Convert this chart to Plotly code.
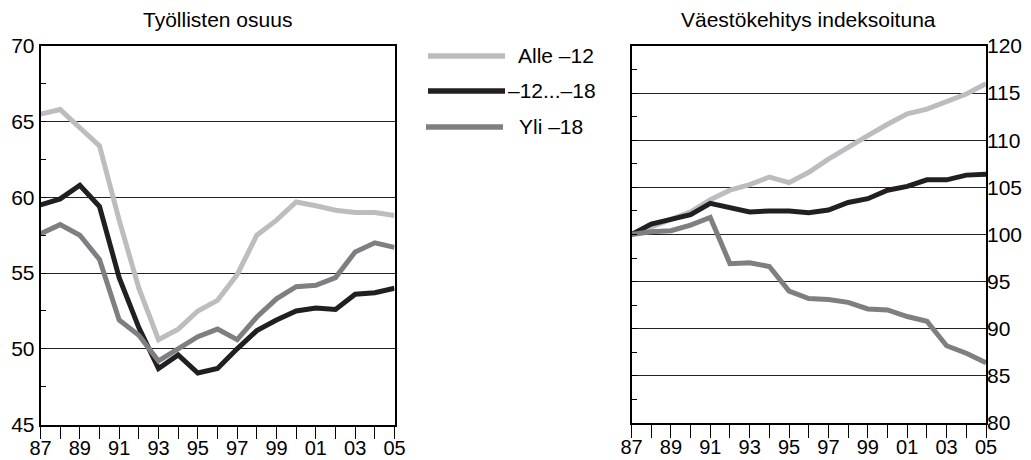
import plotly.graph_objects as go

W, H = 1031, 460

years = list(range(1987, 2006))
x_tick_vals = [1987, 1989, 1991, 1993, 1995, 1997, 1999, 2001, 2003, 2005]
x_tick_text = ["87", "89", "91", "93", "95", "97", "99", "01", "03", "05"]

series_names = ["Alle \u201312", "\u201312...\u201318", "Yli \u201318"]
series_colors = ["#bdbdbf", "#231f20", "#7f7f81"]

# Left panel: Työllisten osuus
emp_alle12 = [65.5, 65.8, 64.6, 63.4, 58.5, 54.0, 50.6, 51.3, 52.5, 53.2,
              54.9, 57.5, 58.5, 59.7, 59.45, 59.15, 59.0, 59.0, 58.8]
emp_12_18 = [59.5, 59.9, 60.8, 59.4, 54.7, 51.4, 48.7, 49.6, 48.4, 48.7,
             50.0, 51.2, 51.9, 52.5, 52.7, 52.6, 53.6, 53.7, 54.0]
emp_yli18 = [57.6, 58.2, 57.5, 55.9, 51.9, 50.9, 49.2, 50.0, 50.8, 51.3,
             50.6, 52.1, 53.3, 54.1, 54.2, 54.7, 56.4, 57.0, 56.7]

# Right panel: Väestökehitys indeksoituna
pop_alle12 = [100.0, 100.8, 101.5, 102.4, 103.7, 104.7, 105.3, 106.1, 105.5, 106.6,
              108.0, 109.3, 110.5, 111.7, 112.8, 113.3, 114.1, 114.9, 116.0]
pop_12_18 = [100.0, 101.1, 101.6, 102.1, 103.3, 102.8, 102.4, 102.5, 102.5, 102.3,
             102.6, 103.4, 103.8, 104.7, 105.1, 105.8, 105.8, 106.3, 106.4]
pop_yli18 = [100.0, 100.3, 100.4, 101.0, 101.8, 96.9, 97.0, 96.6, 94.0, 93.2,
             93.1, 92.8, 92.1, 92.0, 91.3, 90.8, 88.2, 87.4, 86.4]

titles = ["Työllisten osuus", "Väestökehitys indeksoituna"]

FONT = "Liberation Sans, Arial, Helvetica, sans-serif"
FS = 21


def px_x(p):
    return p / W


def px_y(p):
    return (H - p) / H


fig = go.Figure()

emp = [emp_alle12, emp_12_18, emp_yli18]
pop = [pop_alle12, pop_12_18, pop_yli18]

for i in range(3):
    fig.add_trace(go.Scatter(x=years, y=emp[i], mode="lines", name=series_names[i],
                             line=dict(color=series_colors[i], width=5),
                             xaxis="x", yaxis="y", showlegend=False))
for i in range(3):
    fig.add_trace(go.Scatter(x=years, y=pop[i], mode="lines", name=series_names[i],
                             line=dict(color=series_colors[i], width=5),
                             xaxis="x2", yaxis="y2", showlegend=False))
# invisible helper so the right-hand label axis is rendered
fig.add_trace(go.Scatter(x=years, y=pop_alle12, mode="lines",
                         line=dict(color="rgba(0,0,0,0)", width=0),
                         xaxis="x2", yaxis="y3", showlegend=False, hoverinfo="skip"))

common_x = dict(
    range=[1987, 2005], tickmode="array", tickvals=x_tick_vals, ticktext=x_tick_text,
    ticks="outside", ticklen=13, tickwidth=1.3, tickcolor="black",
    minor=dict(tickmode="array", tickvals=years, ticks="outside", ticklen=13,
               tickwidth=1.3, tickcolor="black", showgrid=False),
    showline=True, linecolor="black", linewidth=1.6, mirror=True,
    showgrid=False, zeroline=False, automargin=False,
    ticklabelstandoff=-8,
    tickfont=dict(family=FONT, size=20, color="black"),
    fixedrange=True,
)

fig.update_layout(
    width=W, height=H,
    margin=dict(l=0, r=0, t=0, b=0, autoexpand=False),
    paper_bgcolor="white", plot_bgcolor="white",
    showlegend=False,
    xaxis=dict(domain=[px_x(40.5), px_x(394.5)], anchor="y", **common_x),
    xaxis2=dict(domain=[px_x(631.5), px_x(986)], anchor="y2", **common_x),
    yaxis=dict(
        domain=[px_y(424.5), px_y(46)], anchor="x", range=[45, 70],
        tickmode="linear", tick0=45, dtick=5,
        ticks="inside", ticklen=6, tickcolor="black",
        minor=dict(dtick=2.5, tick0=45, ticks="inside", ticklen=6,
                   tickcolor="black", showgrid=False),
        showgrid=True, gridcolor="#222", gridwidth=1,
        showline=True, linecolor="black", linewidth=1.6, mirror=True,
        zeroline=False, automargin=False,
        tickfont=dict(family=FONT, size=FS, color="black"),
        fixedrange=True,
    ),
    yaxis2=dict(
        domain=[px_y(423), px_y(46)], anchor="x2", range=[80, 120],
        tickmode="linear", tick0=80, dtick=5,
        ticks="inside", ticklen=6, tickcolor="black",
        minor=dict(dtick=2.5, tick0=80, ticks="inside", ticklen=6,
                   tickcolor="black", showgrid=False),
        showticklabels=False,
        showgrid=True, gridcolor="#222", gridwidth=1,
        showline=True, linecolor="black", linewidth=1.6, mirror=True,
        zeroline=False, automargin=False, fixedrange=True,
    ),
    yaxis3=dict(
        overlaying="y2", side="right", anchor="x2", range=[80, 120],
        tickmode="linear", tick0=80, dtick=5, ticks="",
        showgrid=False, showline=False, zeroline=False, automargin=False,
        tickfont=dict(family=FONT, size=FS, color="black"),
        fixedrange=True,
    ),
)

# Titles
fig.add_annotation(text=titles[0], x=px_x(217.5), y=px_y(20), xref="paper", yref="paper",
                   showarrow=False, xanchor="center", yanchor="middle",
                   font=dict(family=FONT, size=FS, color="black"))
fig.add_annotation(text=titles[1], x=px_x(808.5), y=px_y(20), xref="paper", yref="paper",
                   showarrow=False, xanchor="center", yanchor="middle",
                   font=dict(family=FONT, size=FS, color="black"))

# Custom legend (long line samples)
leg_rows = [(428, 505, 56, 516), (428, 505, 91, 506), (426, 503, 127, 517)]
for i, (x0, x1, yy, tx) in enumerate(leg_rows):
    fig.add_shape(type="line", xref="paper", yref="paper",
                  x0=px_x(x0), x1=px_x(x1), y0=px_y(yy), y1=px_y(yy),
                  line=dict(color=series_colors[i], width=5.5))
    fig.add_annotation(text=series_names[i], x=px_x(tx), y=px_y(yy), xref="paper", yref="paper",
                       showarrow=False, xanchor="left", yanchor="middle",
                       font=dict(family=FONT, size=FS, color="black"))

fig.write_html(
    "out.html",
    config={"displayModeBar": False},
    post_script="document.body.style.margin='0';document.body.style.overflow='hidden';",
)
